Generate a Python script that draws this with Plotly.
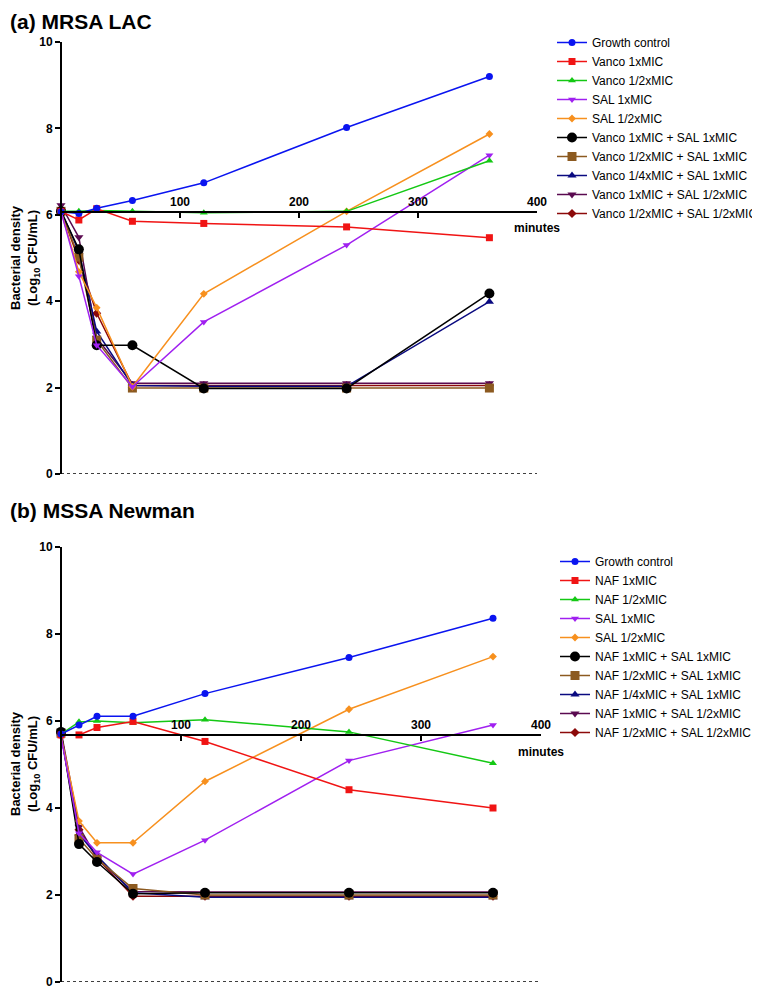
import plotly.graph_objects as go

# ---------------- data ----------------
times = [0, 15, 30, 60, 120, 240, 360]
x_ticks = [100, 200, 300, 400]
y_ticks = [0, 2, 4, 6, 8, 10]

names_a = ["Growth control", "Vanco 1xMIC", "Vanco 1/2xMIC", "SAL 1xMIC", "SAL 1/2xMIC",
           "Vanco 1xMIC + SAL 1xMIC", "Vanco 1/2xMIC + SAL 1xMIC", "Vanco 1/4xMIC + SAL 1xMIC",
           "Vanco 1xMIC + SAL 1/2xMIC", "Vanco 1/2xMIC + SAL 1/2xMIC"]
a_growth = [6.07, 6.03, 6.15, 6.33, 6.74, 8.02, 9.20]
a_vanco1 = [6.08, 5.88, 6.14, 5.85, 5.80, 5.72, 5.47]
a_vanco_half = [6.08, 6.08, 6.10, 6.08, 6.05, 6.08, 7.25]
a_sal1 = [6.08, 4.58, 2.98, 2.02, 3.52, 5.30, 7.38]
a_sal_half = [6.08, 4.68, 3.85, 2.02, 4.17, 6.08, 7.87]
a_combo1 = [6.08, 5.20, 2.98, 2.98, 1.98, 1.98, 4.18]
a_combo2 = [6.08, 5.02, 3.10, 1.99, 1.99, 1.99, 1.99]
a_combo3 = [6.10, 5.15, 3.30, 2.05, 2.03, 2.03, 3.99]
a_combo4 = [6.22, 5.48, 3.15, 2.10, 2.10, 2.10, 2.10]
a_combo5 = [6.10, 4.95, 3.72, 2.05, 2.05, 2.05, 2.05]
series_a = [a_growth, a_vanco1, a_vanco_half, a_sal1, a_sal_half,
            a_combo1, a_combo2, a_combo3, a_combo4, a_combo5]

names_b = ["Growth control", "NAF 1xMIC", "NAF 1/2xMIC", "SAL 1xMIC", "SAL 1/2xMIC",
           "NAF 1xMIC + SAL 1xMIC", "NAF 1/2xMIC + SAL 1xMIC", "NAF 1/4xMIC + SAL 1xMIC",
           "NAF 1xMIC + SAL 1/2xMIC", "NAF 1/2xMIC + SAL 1/2xMIC"]
b_growth = [5.70, 5.91, 6.11, 6.11, 6.63, 7.46, 8.36]
b_naf1 = [5.68, 5.68, 5.85, 5.99, 5.53, 4.42, 4.00]
b_naf_half = [5.70, 5.98, 6.00, 5.96, 6.03, 5.75, 5.03]
b_sal1 = [5.64, 3.42, 2.98, 2.48, 3.26, 5.09, 5.91]
b_sal_half = [5.66, 3.70, 3.20, 3.20, 4.61, 6.27, 7.48]
b_combo1 = [5.75, 3.17, 2.76, 2.03, 2.05, 2.05, 2.05]
b_combo2 = [5.72, 3.30, 2.83, 2.15, 2.00, 2.00, 2.00]
b_combo3 = [5.70, 3.40, 2.90, 2.05, 1.95, 1.95, 1.95]
b_combo4 = [5.77, 3.57, 2.85, 2.08, 2.07, 2.07, 2.07]
b_combo5 = [5.70, 3.50, 2.85, 1.97, 1.97, 1.97, 1.97]
series_b = [b_growth, b_naf1, b_naf_half, b_sal1, b_sal_half,
            b_combo1, b_combo2, b_combo3, b_combo4, b_combo5]

# ---------------- styles ----------------
colors = ["#0a14f0", "#f01414", "#14c814", "#a020f0", "#f7901e",
          "#000000", "#8c5a20", "#0a0a80", "#5a0a50", "#8c0a0a"]
symbols = ["circle", "square", "triangle-up", "triangle-down", "diamond",
           "circle", "square", "triangle-up", "triangle-down", "diamond"]
sizes = [7, 7, 7, 7, 6, 10, 9, 8, 8, 7]
FONT = "Arial, Liberation Sans, sans-serif"

# the page body has an 8px margin, so the figure is sized to end at the window edge
OFF = 8
W, H = 760 - OFF, 988 - OFF
fig = go.Figure()


def add_panel(series, names, xa, ya, legend):
    n = len(series)
    for i in reversed(range(n)):
        fig.add_trace(go.Scatter(
            x=times, y=series[i], name=names[i], mode="lines+markers",
            line=dict(color=colors[i], width=1.5),
            marker=dict(symbol=symbols[i], size=sizes[i], color=colors[i]),
            xaxis=xa, yaxis=ya, legend=legend, legendrank=i + 1,
            cliponaxis=False))


add_panel(series_a, names_a, "x", "y", "legend")
add_panel(series_b, names_b, "x2", "y2", "legend2")


def sx(p):
    return (p - OFF) / W


def sy(p):
    return 1 - (p - OFF) / H


xcommon = dict(range=[0, 400], tickvals=x_ticks, side="top", ticks="inside", ticklen=5,
               tickwidth=1.5, tickcolor="black", showline=True, linecolor="black", linewidth=2,
               showgrid=False, zeroline=False, anchor="free", automargin=False,
               ticklabeloverflow="allow",
               tickfont=dict(family=FONT, size=12, color="black", weight="bold"))
ycommon = dict(range=[0, 10], tickvals=y_ticks, ticks="outside", ticklen=5, tickwidth=1.5,
               tickcolor="black", showline=True, linecolor="black", linewidth=2,
               showgrid=False, zeroline=False, anchor="free", position=sx(61), automargin=False,
               ticklabeloverflow="allow",
               tickfont=dict(family=FONT, size=12, color="black", weight="bold"))

fig.update_layout(
    width=W, height=H, margin=dict(l=0, r=0, t=0, b=0, autoexpand=False),
    paper_bgcolor="white", plot_bgcolor="white",
    font=dict(family=FONT, color="black"),
    xaxis=dict(domain=[sx(61), sx(537)], position=sy(212), **xcommon),
    yaxis=dict(domain=[sy(474), sy(42)], **ycommon),
    xaxis2=dict(domain=[sx(61), sx(541)], position=sy(735), **xcommon),
    yaxis2=dict(domain=[sy(982), sy(547)], **ycommon),
    legend=dict(x=sx(552), y=sy(28), xanchor="left", yanchor="top",
                font=dict(family=FONT, size=12, color="black"), bgcolor="rgba(0,0,0,0)",
                tracegroupgap=0),
    legend2=dict(x=sx(555), y=sy(547), xanchor="left", yanchor="top",
                 font=dict(family=FONT, size=12, color="black"), bgcolor="rgba(0,0,0,0)",
                 tracegroupgap=0),
    showlegend=True,
)

for xr, yr in (("x", "y"), ("x2", "y2")):
    fig.add_shape(type="line", xref=xr, yref=yr, x0=0, x1=400, y0=0, y1=0,
                  line=dict(color="black", width=1.5, dash="dot"))

annots = [
    dict(text="<b>(a) MRSA LAC</b>", x=0, y=1, xanchor="left", yanchor="top", size=21),
    dict(text="<b>(b) MSSA Newman</b>", x=0, y=sy(497), xanchor="left", yanchor="top", size=21),
    dict(text="<b>minutes</b>", x=sx(537), y=sy(228), xanchor="center", yanchor="middle", size=12),
    dict(text="<b>minutes</b>", x=sx(541), y=sy(752), xanchor="center", yanchor="middle", size=12),
]
for a in annots:
    fig.add_annotation(text=a["text"], x=a["x"], y=a["y"], xref="paper", yref="paper",
                       xanchor=a["xanchor"], yanchor=a["yanchor"], showarrow=False,
                       font=dict(family=FONT, size=a["size"], color="black"))

for yc in (258, 764):
    fig.add_annotation(text="<b>Bacterial density<br>(Log<sub>10</sub> CFU/mL)</b>",
                       x=sx(25), y=sy(yc), xref="paper", yref="paper",
                       xanchor="center", yanchor="middle", textangle=-90, showarrow=False,
                       font=dict(family=FONT, size=13, color="black"))

fig.write_html("out.html")
